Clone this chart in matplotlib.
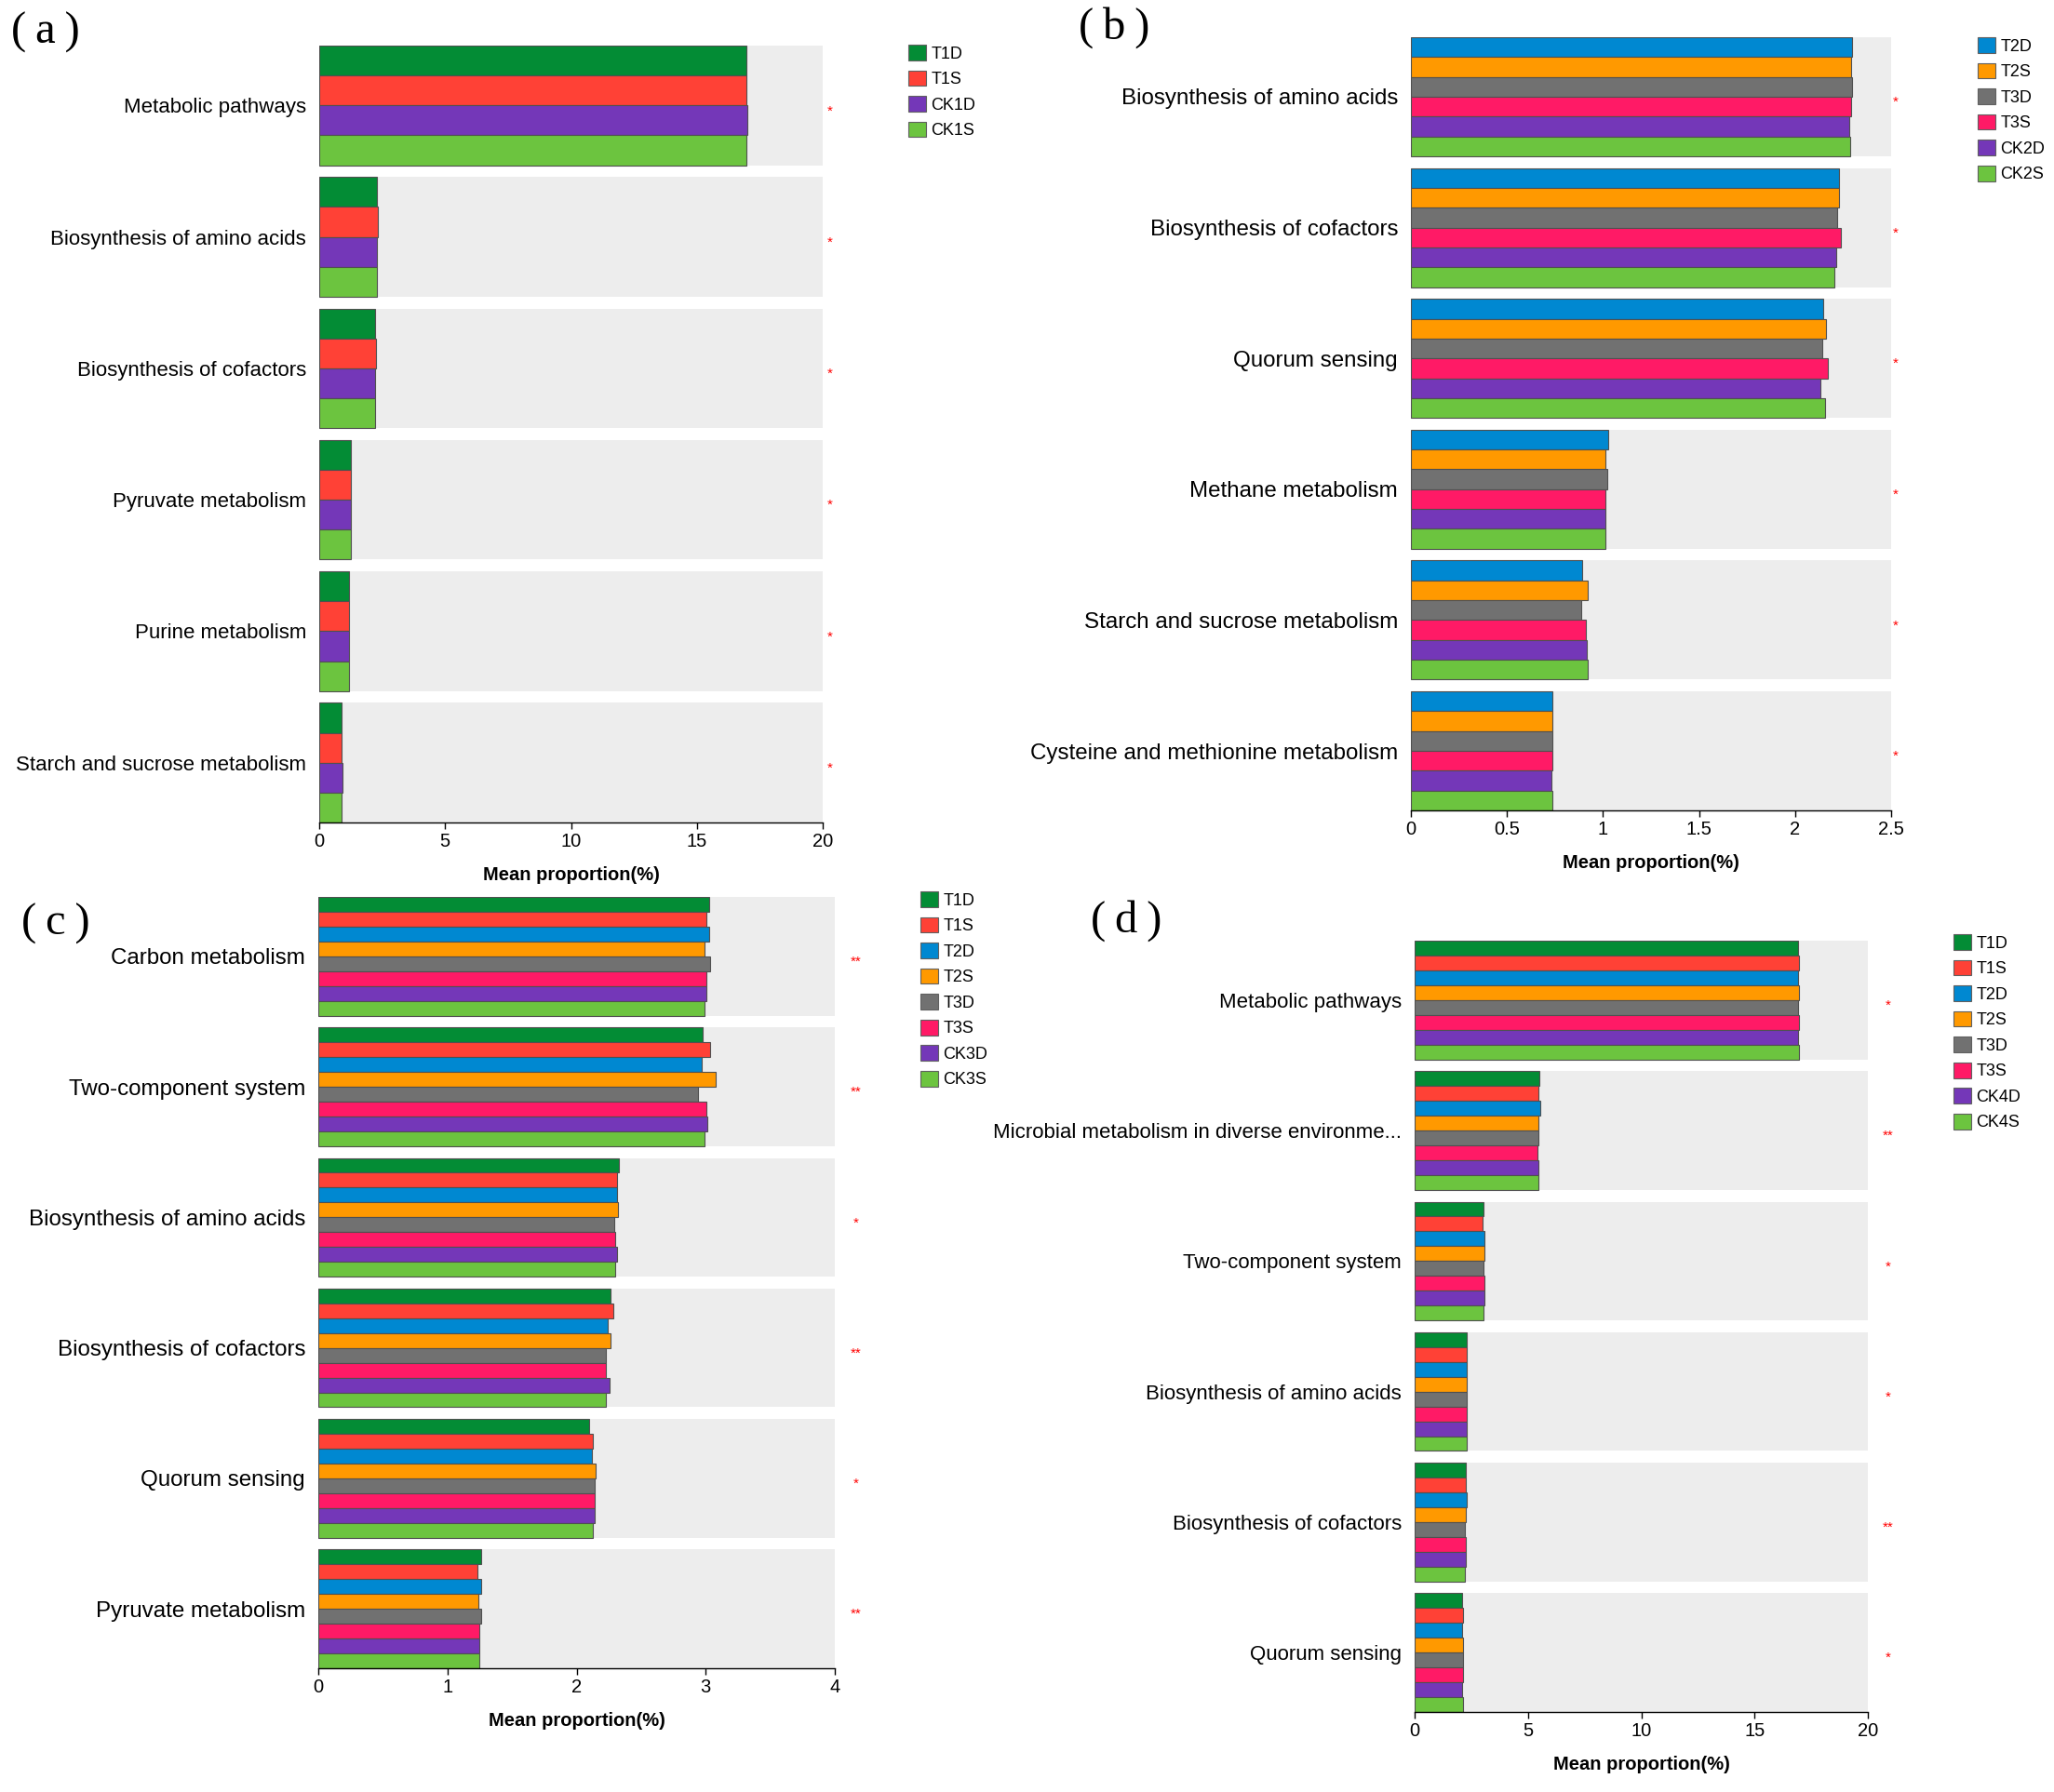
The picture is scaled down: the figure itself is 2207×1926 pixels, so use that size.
import matplotlib
matplotlib.use("Agg")
import matplotlib.pyplot as plt
import matplotlib.patches as mpatches

plt.rcParams['font.family'] = ['Liberation Sans', 'DejaVu Sans']

W, H = 2207, 1926

# group colours
COLORS = {
    "T1D": "#038C35", "T1S": "#FF4136", "T2D": "#0088D1", "T2S": "#FF9900",
    "T3D": "#717171", "T3S": "#FF1A66",
    "CK1D": "#7437B8", "CK2D": "#7437B8", "CK3D": "#7437B8", "CK4D": "#7437B8",
    "CK1S": "#6CC43F", "CK2S": "#6CC43F", "CK3S": "#6CC43F", "CK4S": "#6CC43F",
}

# ---- panel (a)
a_pathways = ["Metabolic pathways", "Biosynthesis of amino acids", "Biosynthesis of cofactors",
              "Pyruvate metabolism", "Purine metabolism", "Starch and sucrose metabolism"]
a_groups = ["T1D", "T1S", "CK1D", "CK1S"]
a_values = [
    [16.96, 16.96, 16.99, 16.96],
    [2.31, 2.34, 2.31, 2.29],
    [2.21, 2.26, 2.23, 2.23],
    [1.27, 1.27, 1.27, 1.25],
    [1.19, 1.19, 1.19, 1.19],
    [0.88, 0.88, 0.91, 0.90],
]
a_stars = ["*", "*", "*", "*", "*", "*"]
a_ticks = [0, 5, 10, 15, 20]
a_ticklabels = ["0", "5", "10", "15", "20"]

# ---- panel (b)
b_pathways = ["Biosynthesis of amino acids", "Biosynthesis of cofactors", "Quorum sensing",
              "Methane metabolism", "Starch and sucrose metabolism",
              "Cysteine and methionine metabolism"]
b_groups = ["T2D", "T2S", "T3D", "T3S", "CK2D", "CK2S"]
b_values = [
    [2.295, 2.290, 2.295, 2.290, 2.280, 2.285],
    [2.230, 2.230, 2.220, 2.237, 2.213, 2.206],
    [2.148, 2.162, 2.141, 2.169, 2.131, 2.155],
    [1.028, 1.014, 1.021, 1.011, 1.011, 1.011],
    [0.891, 0.919, 0.885, 0.912, 0.915, 0.919],
    [0.738, 0.738, 0.738, 0.738, 0.734, 0.738],
]
b_stars = ["*", "*", "*", "*", "*", "*"]
b_ticks = [0, 0.5, 1, 1.5, 2, 2.5]
b_ticklabels = ["0", "0.5", "1", "1.5", "2", "2.5"]

# ---- panel (c)
c_pathways = ["Carbon metabolism", "Two-component system", "Biosynthesis of amino acids",
              "Biosynthesis of cofactors", "Quorum sensing", "Pyruvate metabolism"]
c_groups = ["T1D", "T1S", "T2D", "T2S", "T3D", "T3S", "CK3D", "CK3S"]
c_values = [
    [3.024, 3.009, 3.029, 2.994, 3.034, 3.009, 3.004, 2.994],
    [2.973, 3.034, 2.968, 3.075, 2.938, 3.004, 3.014, 2.994],
    [2.331, 2.311, 2.311, 2.321, 2.291, 2.296, 2.311, 2.301],
    [2.260, 2.286, 2.240, 2.265, 2.230, 2.230, 2.255, 2.230],
    [2.094, 2.129, 2.119, 2.149, 2.139, 2.144, 2.144, 2.129],
    [1.264, 1.234, 1.264, 1.239, 1.259, 1.244, 1.244, 1.249],
]
c_stars = ["**", "**", "*", "**", "*", "**"]
c_ticks = [0, 1, 2, 3, 4]
c_ticklabels = ["0", "1", "2", "3", "4"]

# ---- panel (d)
d_pathways = ["Metabolic pathways", "Microbial metabolism in diverse environme...",
              "Two-component system", "Biosynthesis of amino acids",
              "Biosynthesis of cofactors", "Quorum sensing"]
d_groups = ["T1D", "T1S", "T2D", "T2S", "T3D", "T3S", "CK4D", "CK4S"]
d_values = [
    [16.90, 16.97, 16.90, 16.97, 16.94, 16.97, 16.90, 16.97],
    [5.50, 5.47, 5.56, 5.47, 5.47, 5.44, 5.47, 5.47],
    [3.03, 3.00, 3.09, 3.06, 3.03, 3.09, 3.09, 3.03],
    [2.31, 2.31, 2.31, 2.28, 2.31, 2.31, 2.31, 2.31],
    [2.25, 2.25, 2.31, 2.25, 2.22, 2.25, 2.25, 2.22],
    [2.10, 2.13, 2.10, 2.13, 2.13, 2.13, 2.10, 2.13],
]
d_stars = ["*", "**", "*", "*", "**", "*"]
d_ticks = [0, 5, 10, 15, 20]
d_ticklabels = ["0", "5", "10", "15", "20"]


def draw_panel(fig, box, pathways, groups, values, stars, ticks, ticklabels,
               legend_xy, star_dx, tag, tag_xy, label_size=16):
    l, t, r, b = box
    ax = fig.add_axes([l / W, 1 - b / H, (r - l) / W, (b - t) / H])
    xmax = ticks[-1]
    band = 0.91
    n = len(groups)
    h = band / n
    for i, name in enumerate(pathways):
        ax.barh(i, xmax, height=band, color="#EDEDED", zorder=1)
        for j, g in enumerate(groups):
            y = i - band / 2 + (j + 0.5) * h
            ax.barh(y, values[i][j], height=h, color=COLORS[g],
                    edgecolor="#505050", linewidth=0.8, zorder=2)
        # significance marks sit just right of the panel
        ax.annotate(stars[i], xy=(1, i), xycoords=("axes fraction", "data"),
                    xytext=(star_dx, -6), textcoords="offset pixels",
                    ha="center", va="center", color="red", fontsize=11)
    ax.set_xlim(0, xmax)
    ax.set_ylim(len(pathways) - 1 + band / 2, -band / 2)
    ax.set_yticks(range(len(pathways)))
    ax.set_yticklabels(pathways, fontsize=label_size)
    ax.tick_params(axis="y", length=0, pad=10)
    ax.set_xticks(ticks)
    ax.set_xticklabels(ticklabels, fontsize=14.5)
    ax.tick_params(axis="x", length=5, width=1, pad=3)
    for s in ["top", "right", "left"]:
        ax.spines[s].set_visible(False)
    ax.spines["bottom"].set_linewidth(1)
    ax.set_xlabel("Mean proportion(%)", fontsize=14.5, fontweight="bold", labelpad=12)

    handles = [mpatches.Patch(facecolor=COLORS[g], edgecolor="#606060", linewidth=0.8)
               for g in groups]
    ax.legend(handles, groups, loc="upper left",
              bbox_to_anchor=(legend_xy[0] / W, 1 - legend_xy[1] / H),
              bbox_transform=fig.transFigure, frameon=False, fontsize=13,
              borderpad=0, borderaxespad=0, handlelength=1.05, handleheight=1.05,
              labelspacing=0.5, handletextpad=0.3)
    fig.text(tag_xy[0] / W, 1 - tag_xy[1] / H, tag, fontsize=35,
             family=["Liberation Serif", "DejaVu Serif"], ha="center", va="center")
    return ax


fig = plt.figure(figsize=(W / 100, H / 100), dpi=100)

draw_panel(fig, (343, 49, 884, 884), a_pathways, a_groups, a_values, a_stars,
           a_ticks, a_ticklabels, (976, 48), 8, "(\u2009a\u2009)", (49, 35))
draw_panel(fig, (1516, 40, 2032, 871), b_pathways, b_groups, b_values, b_stars,
           b_ticks, b_ticklabels, (2125, 40), 5, "(\u2009b\u2009)", (1197, 30),
           label_size=17.4)
draw_panel(fig, (342, 964, 897, 1793), c_pathways, c_groups, c_values, c_stars,
           c_ticks, c_ticklabels, (989, 958), 23, "(\u2009c\u2009)", (60, 993),
           label_size=17.4)
draw_panel(fig, (1520, 1011, 2007, 1840), d_pathways, d_groups, d_values, d_stars,
           d_ticks, d_ticklabels, (2099, 1004), 22, "(\u2009d\u2009)", (1210, 990))

fig.savefig("out.png", dpi=100, facecolor="white")
